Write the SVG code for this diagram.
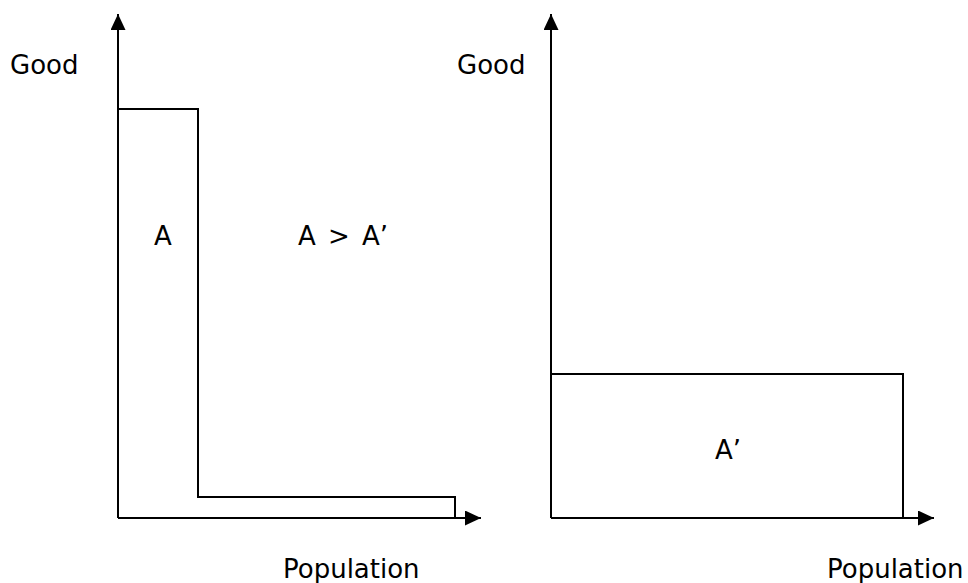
<svg xmlns="http://www.w3.org/2000/svg" width="968" height="583" viewBox="0 0 968 583">
<defs>
<style>
.ln{fill:none;stroke:#000;stroke-width:2}
.t{font-family:"DejaVu Sans",Verdana,sans-serif;font-size:26px;fill:#000}
</style>
<marker id="ah" markerWidth="16" markerHeight="15" refX="16" refY="7.5" orient="auto" markerUnits="userSpaceOnUse">
<path d="M0,0 L16,7.5 L0,15 Z" fill="#000"/>
</marker>
</defs>
<rect width="968" height="583" fill="#fff"/>
<g id="connectors">
<line class="ln" x1="118" y1="518" x2="118" y2="14" marker-end="url(#ah)"/>
<line class="ln" x1="118" y1="518" x2="481" y2="518" marker-end="url(#ah)"/>
<line class="ln" x1="551" y1="518" x2="551" y2="14" marker-end="url(#ah)"/>
<line class="ln" x1="551" y1="518" x2="934" y2="518" marker-end="url(#ah)"/>
</g>
<g id="shapeA">
<polyline class="ln" points="118,109 198,109 198,497 455,497 455,518"/>
<text class="t" x="163" y="245" text-anchor="middle">A</text>
</g>
<g id="shapeA2">
<polyline class="ln" points="551,374 903,374 903,518"/>
<text class="t" x="728" y="459" text-anchor="middle">A’</text>
</g>
<g id="labels">
<text class="t" x="10" y="74">Good</text>
<text class="t" x="457" y="74">Good</text>
<text class="t" x="283" y="578">Population</text>
<text class="t" x="827" y="578">Population</text>
<text class="t" x="343" y="245" text-anchor="middle" word-spacing="4" xml:space="preserve">A &gt; A’</text>
</g>
</svg>
